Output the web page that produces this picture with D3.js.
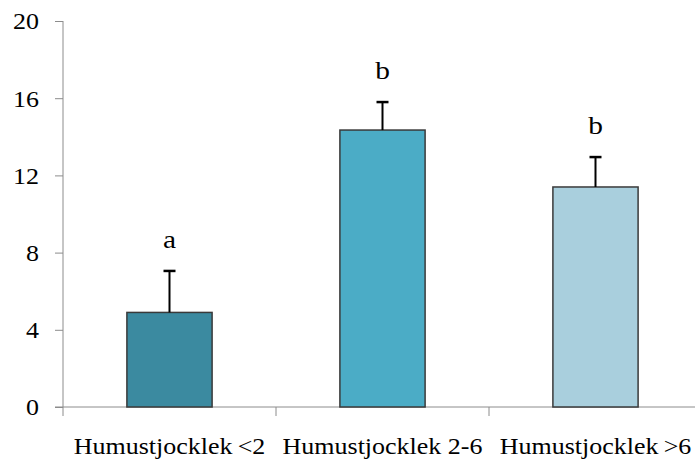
<!DOCTYPE html>
<html><head><meta charset="utf-8">
<script src="https://cdn.jsdelivr.net/npm/d3@7"></script>
<style>body{margin:0;background:#fff}svg{display:block}</style>
</head><body>
<svg id="c" width="695" height="459"></svg>
<script>
const categories = ["Humustjocklek\u2009<2", "Humustjocklek 2-6", "Humustjocklek\u2009>6"];
const values = [4.9, 14.35, 11.4];
const errors = [2.15, 1.45, 1.55];
const letters = ["a", "b", "b"];
const yTicks = [0, 4, 8, 12, 16, 20];
const colors = ["#3B8AA0", "#4BACC6", "#A9CFDD"];

const FONT = "'Liberation Serif'";
const SX = 1.13; // horizontal stretch of the reference text
const svg = d3.select("#c");
const m = {l: 63, r: -7, t: 21, b: 52};
const W = 695, H = 459;
const x = d3.scaleBand().domain(categories).range([m.l, W - m.r]).paddingInner(0.6).paddingOuter(0.3);
const xb = d3.scaleBand().domain(categories).range([m.l, W - m.r]);
const y = d3.scaleLinear().domain([0, 20]).range([H - m.b, m.t]);

function place(sel, fx, fy) {
  sel.attr("transform", (d, i) => `translate(${fx(d, i)},${fy(d, i)}) scale(${SX},1)`)
    .attr("x", 0).attr("y", 0).attr("font-family", null).style("font-family", FONT).attr("fill", "#000");
}

// y axis
const ya = svg.append("g").attr("transform", `translate(${m.l},0)`)
  .call(d3.axisLeft(y).tickValues(yTicks).tickSize(8).tickPadding(12));
ya.attr("font-family", null);
ya.select(".domain").attr("stroke", "#8c8c8c").attr("d", `M0,${y(20)}V${y(0)+9}`);
ya.selectAll(".tick line").attr("stroke", "#8c8c8c");
ya.selectAll(".tick text").attr("font-size", 23).attr("text-anchor", "end").attr("dy", "0.34em")
  .call(place, () => -24, () => 0);

// x axis
const xa = svg.append("g").attr("transform", `translate(0,${y(0)})`);
xa.append("line").attr("x1", m.l - 8).attr("x2", W).attr("y1", 0).attr("y2", 0).attr("stroke", "#8c8c8c");
xa.selectAll("line.t").data(categories.slice(1)).enter().append("line")
  .attr("x1", d => xb(d)).attr("x2", d => xb(d)).attr("y1", 0).attr("y2", 9).attr("stroke", "#8c8c8c");
xa.selectAll("text").data(categories).enter().append("text")
  .attr("text-anchor", "middle").attr("font-size", 23).text(d => d)
  .call(place, d => xb(d) + xb.bandwidth() / 2, () => 47);

// bars
svg.selectAll("rect.bar").data(categories).enter().append("rect")
  .attr("x", d => x(d)).attr("width", x.bandwidth())
  .attr("y", (d, i) => y(values[i])).attr("height", (d, i) => y(0) - y(values[i]))
  .attr("fill", (d, i) => colors[i]).attr("stroke", "#3a3a3a").attr("stroke-width", 1.5);

// error bars
const cx = d => x(d) + x.bandwidth() / 2;
svg.selectAll("line.err").data(categories).enter().append("line")
  .attr("x1", cx).attr("x2", cx)
  .attr("y1", (d, i) => y(values[i])).attr("y2", (d, i) => y(values[i] + errors[i]))
  .attr("stroke", "#000").attr("stroke-width", 2);
svg.selectAll("line.cap").data(categories).enter().append("line")
  .attr("x1", d => cx(d) - 6).attr("x2", d => cx(d) + 6)
  .attr("y1", (d, i) => y(values[i] + errors[i])).attr("y2", (d, i) => y(values[i] + errors[i]))
  .attr("stroke", "#000").attr("stroke-width", 2.5);

// letters
svg.selectAll("text.let").data(categories).enter().append("text")
  .attr("text-anchor", "middle").attr("font-size", 26).text((d, i) => letters[i])
  .call(place, cx, (d, i) => y(values[i] + errors[i]) - 23);
</script>
</body></html>
